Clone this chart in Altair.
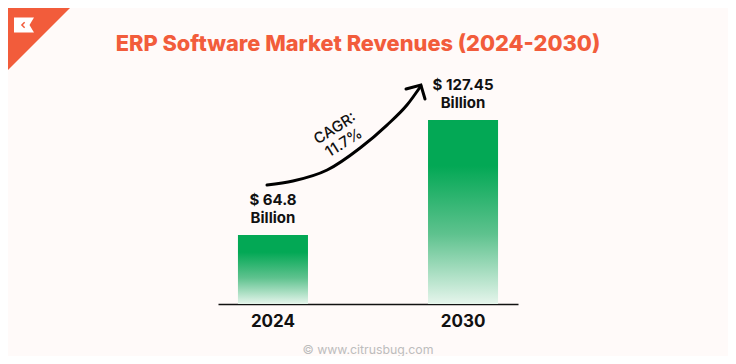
import altair as alt
import pandas as pd

# ---- data ----
years = ["2024", "2030"]
revenues = [64.8, 127.45]
value_labels = ["$ 64.8", "$ 127.45"]
unit_labels = ["Billion", "Billion"]
cagr_text = "CAGR:\n11.7%"
title_text = "ERP Software Market Revenues (2024-2030)"
source_text = "\u00a9 www.citrusbug.com"

# arrow annotation, anchored in (year, revenue) coordinates
arrow_year = [2023.81, 2024.63, 2025.71, 2026.75, 2027.60, 2028.23, 2028.67]
arrow_val = [92.0, 94.2, 100.2, 112.2, 124.7, 135.6, 146.0]
head_year = [2028.20, 2028.67, 2028.80]
head_val = [144.3, 146.5, 138.9]

GREEN = "#03A855"
ORANGE = "#F25C3B"
BG = "#FFFAF9"

Y_MIN, Y_MAX = 27.21, 154.69
YR_MIN, YR_MAX = 2022.263, 2031.737

bars_df = pd.DataFrame({"year": years, "revenue": revenues,
                        "label": value_labels, "unit": unit_labels})
arrow_df = pd.DataFrame({"yr": arrow_year, "v": arrow_val, "o": list(range(len(arrow_year)))})
head_df = pd.DataFrame({"yr": head_year, "v": head_val, "o": list(range(len(head_year)))})
cagr_df = pd.DataFrame({"yr": [2025.95], "v": [123.0], "t": [cagr_text]})
one = pd.DataFrame({"a": [0]})

yscale = alt.Scale(domain=[Y_MIN, Y_MAX], zero=False, nice=False)
xq = alt.Scale(domain=[YR_MIN, YR_MAX], nice=False, zero=False)

grad = alt.LinearGradient(
    gradient="linear",
    stops=[
        alt.GradientStop(color=GREEN, offset=0),
        alt.GradientStop(color=GREEN, offset=0.25),
        alt.GradientStop(color="#5EC28E", offset=0.62),
        alt.GradientStop(color="#E6F5EC", offset=1),
    ],
    x1=0, x2=0, y1=0, y2=1,
)

xband = alt.X(
    "year:N",
    sort=years,
    scale=alt.Scale(paddingInner=0.6316, paddingOuter=0.105),
    axis=alt.Axis(
        title=None, labelAngle=0, ticks=False, grid=False,
        labelFontSize=17, labelFont="Inter", labelFontWeight="bold",
        labelColor="#111111", labelPadding=9,
        domainColor="#111111", domainWidth=1.6,
    ),
)

bars = alt.Chart(bars_df).mark_bar(color=grad).encode(
    x=xband,
    y=alt.Y("revenue:Q", scale=yscale, axis=None),
    y2=alt.datum(Y_MIN),
)

labels = alt.Chart(bars_df).mark_text(
    font="Inter", fontSize=15, fontWeight="bold", color="#111111",
    baseline="alphabetic", dy=-30,
).encode(
    x=xband,
    y=alt.Y("revenue:Q", scale=yscale, axis=None),
    text="label:N",
)

units = alt.Chart(bars_df).mark_text(
    font="Inter", fontSize=15, fontWeight="bold", color="#111111",
    baseline="alphabetic", dy=-12,
).encode(
    x=xband,
    y=alt.Y("revenue:Q", scale=yscale, axis=None),
    text="unit:N",
)

main = alt.layer(bars, labels, units)

arrow = alt.Chart(arrow_df).mark_line(
    color="#000000", strokeWidth=3, interpolate="monotone", strokeCap="round"
).encode(
    x=alt.X("yr:Q", scale=xq, axis=None),
    y=alt.Y("v:Q", scale=yscale, axis=None),
    order="o:Q",
)

head = alt.Chart(head_df).mark_line(
    color="#000000", strokeWidth=3, strokeCap="round", strokeJoin="miter"
).encode(
    x=alt.X("yr:Q", scale=xq, axis=None),
    y=alt.Y("v:Q", scale=yscale, axis=None),
    order="o:Q",
)

cagr = alt.Chart(cagr_df).mark_text(
    font="Inter", fontSize=15, fontWeight=500, color="#111111",
    angle=328, align="center", baseline="middle", lineBreak="\n", lineHeight=17,
).encode(
    x=alt.X("yr:Q", scale=xq, axis=None),
    y=alt.Y("v:Q", scale=yscale, axis=None),
    text="t:N",
)

overlay = alt.layer(arrow, head, cagr)

corner = alt.Chart(one).mark_point(
    shape="M-1,-1L1,-1L-1,1Z", filled=True, color=ORANGE, opacity=1, size=6084
).encode(x=alt.value(-179), y=alt.value(-31))

logo = alt.Chart(one).mark_point(
    shape="M-1,-0.75L1,-0.75L0.55,0L1,0.75L-1,0.75Z", filled=True,
    color="#FFFFFF", opacity=1, size=400,
).encode(x=alt.value(-194), y=alt.value(-45))

logo_mark = alt.Chart(one).mark_point(
    shape="M0.6,-1L-0.4,0L0.6,1", filled=False, color=ORANGE, opacity=1,
    size=30, strokeWidth=1.5,
).encode(x=alt.value(-195), y=alt.value(-45))

title = alt.Chart(one).mark_text(
    text=title_text, font="Inter", fontSize=21.8, fontWeight=800,
    color=ORANGE, align="center", baseline="alphabetic",
).encode(x=alt.value(140), y=alt.value(-19))

watermark = alt.Chart(one).mark_text(
    text=source_text, font="Inter", fontSize=12.3,
    color="#BDBDBD", align="center", baseline="middle",
).encode(x=alt.value(150), y=alt.value(280))

deco = alt.layer(corner, logo, logo_mark, title, watermark)

chart = alt.layer(main, overlay, deco).resolve_scale(x="independent").properties(
    width=300,
    height=234,
    padding={"left": 210, "top": 62, "right": 210, "bottom": 52},
    autosize=alt.AutoSizeParams(type="none"),
    background=BG,
).configure_view(stroke=None)

chart.save("out.html", embed_options={"renderer": "svg", "actions": False})
